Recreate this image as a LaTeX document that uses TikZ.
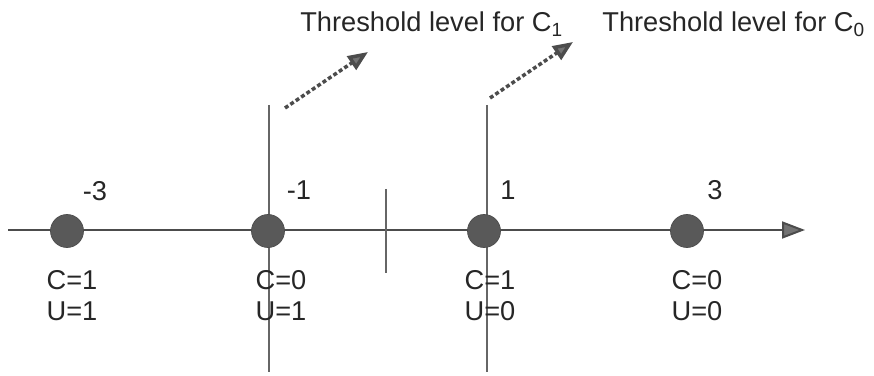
\documentclass[tikz,border=0pt]{standalone}
\usepackage{fontspec}
\setmainfont{Liberation Sans}
\usetikzlibrary{arrows.meta, positioning, calc}

\begin{document}
\begin{tikzpicture}[x=0.2mm, y=-0.2mm,
    every node/.style={font=\fontsize{15.5}{18}\selectfont, text=black!85, inner sep=0pt},
    axisline/.style={draw=black!70, line width=0.4mm},
    thresh/.style={draw=black!60, line width=0.4mm},
    pointer/.style={draw=black!70, line width=0.7mm, dash pattern=on 0.8mm off 0.5mm,
      -{Triangle[length=4mm, width=3.2mm, fill=black!55]}},
    sample/.style={circle, fill=black!65, draw=black!70, minimum size=6.6mm}]
  \useasboundingbox (0,0) rectangle (874,376);
  % axis with tick
  \coordinate (axL) at (8,230);
  \coordinate (axR) at (805,230);
  \draw[axisline, -{Triangle[length=4.6mm, width=3.4mm, fill=black!55]}] (axL) -- (axR);
  \coordinate (tickT) at (386,189); \coordinate (tickB) at (386,273);
  \draw[thresh] (tickT) -- (tickB);
  % threshold lines
  \coordinate (thA) at (269,105); \coordinate (thAb) at (269,372);
  \coordinate (thB) at (487,105); \coordinate (thBb) at (487,372);
  \draw[thresh] (thA) -- (thAb);
  \draw[thresh] (thB) -- (thBb);
  % samples
  \node[sample] (xm3) at (67,231) {};
  \node[sample] (xm1) at (268,231) {};
  \node[sample] (xp1) at (484,231) {};
  \node[sample] (xp3) at (687,231) {};
  \node[anchor=base] (lm3) at (95,201) {-3};
  \node[anchor=base] (lm1) at (299,200) {-1};
  \node[anchor=base] (lp1) at (508,200) {1};
  \node[anchor=base] (lp3) at (715,200) {3};
  \node[anchor=base] (cm3) at (72,290) {C=1};  \node[anchor=base] (um3) at (72,321) {U=1};
  \node[anchor=base] (cm1) at (281,290) {C=0}; \node[anchor=base] (um1) at (281,321) {U=1};
  \node[anchor=base] (cp1) at (490,290) {C=1}; \node[anchor=base] (up1) at (490,321) {U=0};
  \node[anchor=base] (cp3) at (697,290) {C=0}; \node[anchor=base] (up3) at (697,321) {U=0};
  % titles and pointers
  \node[anchor=base west] (tC1) at (300,32) {Threshold level for C\textsubscript{1}};
  \node[anchor=base west] (tC0) at (602,32) {Threshold level for C\textsubscript{0}};
  \coordinate (pA) at (285,108); \coordinate (pAe) at (368,52);
  \coordinate (pB) at (490,98);  \coordinate (pBe) at (573,42);
  \draw[pointer] (pA) -- (pAe);
  \draw[pointer] (pB) -- (pBe);
\end{tikzpicture}
\end{document}
